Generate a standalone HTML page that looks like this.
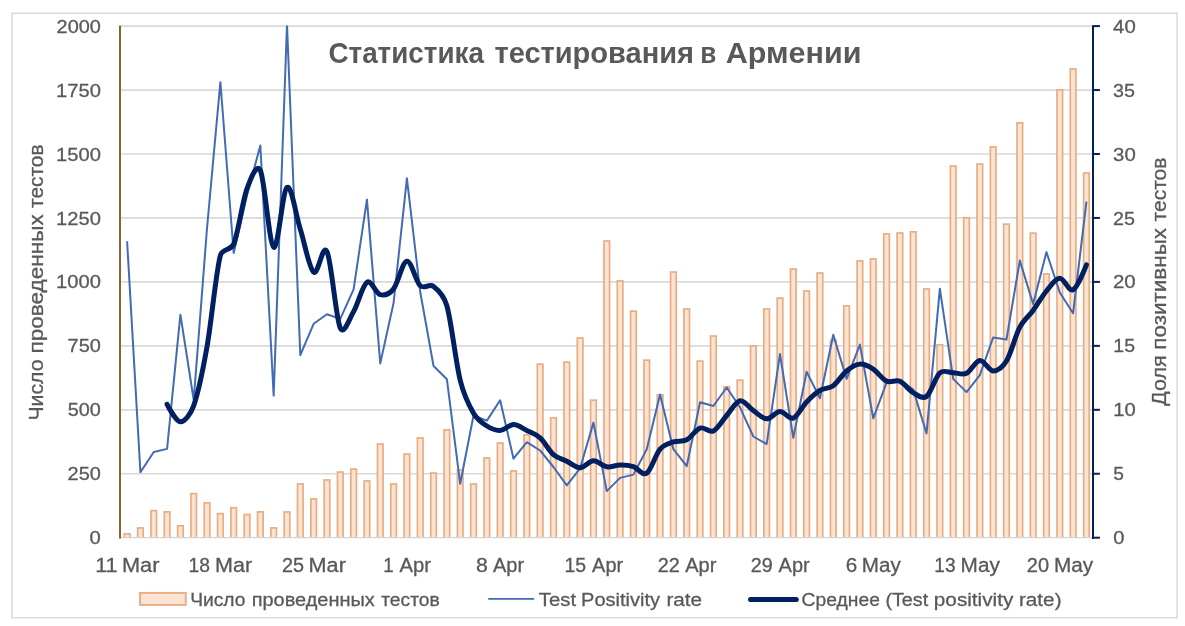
<!DOCTYPE html>
<html lang="ru"><head><meta charset="utf-8"><title>Статистика тестирования в Армении</title>
<style>html,body{margin:0;padding:0;background:#fff}body{width:1185px;height:626px;overflow:hidden}svg{display:block}text{font-family:"Liberation Sans",sans-serif;fill:#595959}</style></head><body>
<svg width="1185" height="626" viewBox="0 0 1185 626">
<rect x="0" y="0" width="1185" height="626" fill="#fff"/>
<rect x="12.1" y="13.3" width="1165" height="604.4" fill="#fff" stroke="#d9d9d9" stroke-width="1.5"/>
<g stroke="#d9d9d9" stroke-width="1.7">
<line x1="120.4" x2="1092" y1="473.75" y2="473.75"/>
<line x1="120.4" x2="1092" y1="409.8" y2="409.8"/>
<line x1="120.4" x2="1092" y1="345.85" y2="345.85"/>
<line x1="120.4" x2="1092" y1="281.9" y2="281.9"/>
<line x1="120.4" x2="1092" y1="217.95" y2="217.95"/>
<line x1="120.4" x2="1092" y1="154" y2="154"/>
<line x1="120.4" x2="1092" y1="90.05" y2="90.05"/>
<line x1="120.4" x2="1092" y1="26.1" y2="26.1"/>
</g>
<clipPath id="bc"><rect x="120" y="20" width="973" height="517.9"/></clipPath>
<g clip-path="url(#bc)" fill="#fde3d1" stroke="#e8ad83" stroke-width="1.7">
<rect x="124.3" y="533.85" width="5.6" height="6.85"/>
<rect x="137.62" y="527.95" width="5.6" height="12.75"/>
<rect x="150.95" y="510.65" width="5.6" height="30.05"/>
<rect x="164.27" y="511.85" width="5.6" height="28.85"/>
<rect x="177.6" y="525.85" width="5.6" height="14.85"/>
<rect x="190.92" y="493.65" width="5.6" height="47.05"/>
<rect x="204.24" y="502.85" width="5.6" height="37.85"/>
<rect x="217.57" y="513.65" width="5.6" height="27.05"/>
<rect x="230.89" y="507.75" width="5.6" height="32.95"/>
<rect x="244.22" y="514.55" width="5.6" height="26.15"/>
<rect x="257.54" y="511.85" width="5.6" height="28.85"/>
<rect x="270.86" y="527.95" width="5.6" height="12.75"/>
<rect x="284.19" y="511.95" width="5.6" height="28.75"/>
<rect x="297.51" y="483.95" width="5.6" height="56.75"/>
<rect x="310.84" y="498.95" width="5.6" height="41.75"/>
<rect x="324.16" y="479.95" width="5.6" height="60.75"/>
<rect x="337.48" y="472.05" width="5.6" height="68.65"/>
<rect x="350.81" y="469.15" width="5.6" height="71.55"/>
<rect x="364.13" y="480.95" width="5.6" height="59.75"/>
<rect x="377.46" y="444.05" width="5.6" height="96.65"/>
<rect x="390.78" y="484.05" width="5.6" height="56.65"/>
<rect x="404.1" y="454.05" width="5.6" height="86.65"/>
<rect x="417.43" y="437.95" width="5.6" height="102.75"/>
<rect x="430.75" y="473.05" width="5.6" height="67.65"/>
<rect x="444.08" y="429.85" width="5.6" height="110.85"/>
<rect x="457.4" y="469.95" width="5.6" height="70.75"/>
<rect x="470.72" y="484.05" width="5.6" height="56.65"/>
<rect x="484.05" y="457.95" width="5.6" height="82.75"/>
<rect x="497.37" y="443.05" width="5.6" height="97.65"/>
<rect x="510.7" y="470.95" width="5.6" height="69.75"/>
<rect x="524.02" y="434.75" width="5.6" height="105.95"/>
<rect x="537.34" y="364.15" width="5.6" height="176.55"/>
<rect x="550.67" y="417.75" width="5.6" height="122.95"/>
<rect x="563.99" y="362.15" width="5.6" height="178.55"/>
<rect x="577.32" y="337.95" width="5.6" height="202.75"/>
<rect x="590.64" y="400.15" width="5.6" height="140.55"/>
<rect x="603.96" y="241.05" width="5.6" height="299.65"/>
<rect x="617.29" y="280.95" width="5.6" height="259.75"/>
<rect x="630.61" y="311.15" width="5.6" height="229.55"/>
<rect x="643.94" y="360.15" width="5.6" height="180.55"/>
<rect x="657.26" y="394.85" width="5.6" height="145.85"/>
<rect x="670.58" y="272.05" width="5.6" height="268.65"/>
<rect x="683.91" y="308.95" width="5.6" height="231.75"/>
<rect x="697.23" y="361.15" width="5.6" height="179.55"/>
<rect x="710.56" y="336.05" width="5.6" height="204.65"/>
<rect x="723.88" y="386.85" width="5.6" height="153.85"/>
<rect x="737.2" y="380.15" width="5.6" height="160.55"/>
<rect x="750.53" y="345.85" width="5.6" height="194.85"/>
<rect x="763.85" y="308.95" width="5.6" height="231.75"/>
<rect x="777.18" y="298.05" width="5.6" height="242.65"/>
<rect x="790.5" y="269.15" width="5.6" height="271.55"/>
<rect x="803.82" y="291.05" width="5.6" height="249.65"/>
<rect x="817.15" y="273.05" width="5.6" height="267.65"/>
<rect x="830.47" y="340.35" width="5.6" height="200.35"/>
<rect x="843.8" y="305.85" width="5.6" height="234.85"/>
<rect x="857.12" y="260.95" width="5.6" height="279.75"/>
<rect x="870.44" y="258.95" width="5.6" height="281.75"/>
<rect x="883.77" y="233.85" width="5.6" height="306.85"/>
<rect x="897.09" y="233.05" width="5.6" height="307.65"/>
<rect x="910.42" y="231.85" width="5.6" height="308.85"/>
<rect x="923.74" y="288.95" width="5.6" height="251.75"/>
<rect x="937.06" y="344.85" width="5.6" height="195.85"/>
<rect x="950.39" y="166.05" width="5.6" height="374.65"/>
<rect x="963.71" y="217.75" width="5.6" height="322.95"/>
<rect x="977.04" y="164.05" width="5.6" height="376.65"/>
<rect x="990.36" y="146.95" width="5.6" height="393.75"/>
<rect x="1003.68" y="224.15" width="5.6" height="316.55"/>
<rect x="1017.01" y="122.85" width="5.6" height="417.85"/>
<rect x="1030.33" y="233.15" width="5.6" height="307.55"/>
<rect x="1043.66" y="273.95" width="5.6" height="266.75"/>
<rect x="1056.98" y="89.85" width="5.6" height="450.85"/>
<rect x="1070.3" y="68.95" width="5.6" height="471.75"/>
<rect x="1083.63" y="173.05" width="5.6" height="367.65"/>
</g>
<line x1="120.4" x2="1092" y1="537.7" y2="537.7" stroke="#d4d4d4" stroke-width="1.3"/>
<line x1="120" x2="120" y1="25.5" y2="538.6" stroke="#8f6236" stroke-width="2"/>
<g stroke="#002060" stroke-width="2">
<line x1="1093" x2="1093" y1="25.2" y2="538.9"/>
<line x1="1093" x2="1099.9" y1="537.7" y2="537.7"/>
<line x1="1093" x2="1099.9" y1="473.75" y2="473.75"/>
<line x1="1093" x2="1099.9" y1="409.8" y2="409.8"/>
<line x1="1093" x2="1099.9" y1="345.85" y2="345.85"/>
<line x1="1093" x2="1099.9" y1="281.9" y2="281.9"/>
<line x1="1093" x2="1099.9" y1="217.95" y2="217.95"/>
<line x1="1093" x2="1099.9" y1="154" y2="154"/>
<line x1="1093" x2="1099.9" y1="90.05" y2="90.05"/>
<line x1="1093" x2="1099.9" y1="26.1" y2="26.1"/>
</g>
<clipPath id="pc"><rect x="120" y="25.6" width="973" height="513"/></clipPath>
<polyline clip-path="url(#pc)" points="127.1,241.2 140.42,472.3 153.75,452 167.07,448.9 180.4,314.7 193.72,400 207.04,228 220.37,82.2 233.69,253 247.02,195 260.34,145.5 273.66,395.6 286.99,24.5 300.31,355.1 313.64,323.8 326.96,314.3 340.28,318.9 353.61,289.3 366.93,199.6 380.26,363.4 393.58,303 406.9,178.3 420.23,292 433.55,366 446.88,379.2 460.2,483.8 473.52,415.5 486.85,420.6 500.17,400.3 513.5,458.7 526.82,442.2 540.14,450.5 553.47,467 566.79,485.3 580.12,468.3 593.44,422.6 606.76,491.1 620.09,477.9 633.41,474.6 646.74,449.2 660.06,394.6 673.38,449.2 686.71,466.2 700.03,402.2 713.36,406 726.68,387.5 740,407.3 753.33,436.5 766.65,444.1 779.98,354 793.3,437.8 806.62,371.8 819.95,398.2 833.27,334.8 846.6,378.9 859.92,344.6 873.24,418.3 886.57,382.7 899.89,379.7 913.22,389.6 926.54,433.5 939.86,288.7 953.19,378.9 966.51,392.1 979.84,375.1 993.16,337.5 1006.48,339.5 1019.81,260.6 1033.13,304 1046.46,252.1 1059.78,292.5 1073.1,313.2 1086.43,201.7" fill="none" stroke="#426bb4" stroke-width="2" stroke-linejoin="round" stroke-linecap="butt"/>
<path d="M167.07,404.3C167.07,404.3 175.95,421.58 180.4,421.8C184.84,422.02 190.92,413.51 193.72,405.6C198.16,393.07 202.82,370.42 207.04,346.6C211.49,321.55 215.93,272.4 220.37,255.3C222.12,248.54 231.1,250.49 233.69,244C238.13,232.9 242.57,200.97 247.02,188.7C250.1,180.19 256.59,162.16 260.34,170.4C264.78,180.15 269.22,244.37 273.66,247.2C278.11,250.03 282.55,190.38 286.99,187.4C291.43,184.42 295.87,215.17 300.31,229.3C304.75,243.43 309.19,268.5 313.64,272.2C318.08,275.9 322.72,242.61 326.96,251.5C331.4,260.8 335.84,318.01 340.28,328.02C343.72,335.77 349.34,318.89 353.61,311.57C358.05,303.95 362.49,285.13 366.93,282.3C371.37,279.47 375.81,293.51 380.26,294.6C384.7,295.69 389.96,293.37 393.58,288.82C398.02,283.26 402.46,261.7 406.9,261.2C411.35,260.7 415.79,281.6 420.23,285.8C424.1,289.47 429.29,283.2 433.55,286.4C437.99,289.73 444.3,296.74 446.88,305.8C451.32,321.44 455.76,362.35 460.2,380.25C463.62,394.05 469.08,405.57 473.52,413.2C477.24,419.59 482.41,423.13 486.85,426C491.29,428.87 495.73,430.63 500.17,430.4C504.61,430.17 509.05,424.59 513.5,424.6C517.94,424.61 522.38,428.23 526.82,430.45C531.26,432.67 535.7,433.9 540.14,437.93C544.59,441.95 549.03,450.71 553.47,454.6C557.91,458.49 562.35,459.05 566.79,461.25C571.23,463.45 575.67,467.85 580.12,467.77C584.56,467.7 589,460.96 593.44,460.8C597.88,460.64 602.32,466.13 606.76,466.83C611.21,467.52 615.65,465.02 620.09,464.98C624.53,464.93 628.97,465.18 633.41,466.55C637.85,467.92 642.29,476.11 646.74,473.2C651.18,470.29 655.62,454.29 660.06,449.07C663.98,444.47 668.94,443.45 673.38,441.9C677.83,440.35 682.27,442.11 686.71,439.8C691.15,437.49 695.59,429.53 700.03,428.05C704.47,426.57 708.91,433 713.36,430.9C717.8,428.8 722.24,420.5 726.68,415.48C731.12,410.45 735.56,401.58 740,400.75C744.45,399.92 748.89,407.48 753.33,410.5C757.77,413.52 762.21,418.67 766.65,418.85C771.09,419.03 775.53,411.73 779.98,411.6C784.42,411.48 788.86,419.71 793.3,418.1C797.74,416.49 802.18,406.53 806.62,401.93C811.07,397.32 815.51,393.16 819.95,390.45C824.39,387.74 828.83,388.9 833.27,385.65C837.71,382.4 842.15,374.51 846.6,370.93C851.04,367.34 855.48,364.42 859.92,364.12C864.36,363.83 868.8,366.32 873.24,369.15C877.69,371.98 882.13,379.1 886.57,381.12C891.01,383.15 895.45,379.42 899.89,381.32C904.33,383.23 908.77,390.07 913.22,392.57C917.66,395.08 922.1,399.66 926.54,396.38C930.98,393.09 935.42,376.82 939.86,372.88C943.85,369.33 948.75,372.6 953.19,372.68C957.63,372.75 962.07,375.35 966.51,373.3C970.95,371.25 975.39,360.8 979.84,360.4C984.28,360 988.72,370.79 993.16,370.9C997.6,371.01 1003.03,366.71 1006.48,361.05C1010.93,353.77 1015.37,335.64 1019.81,327.2C1023.8,319.61 1028.69,316.43 1033.13,310.4C1037.57,304.37 1042.01,296.35 1046.46,291C1050.9,285.65 1055.34,278.5 1059.78,278.3C1064.22,278.1 1068.66,292.04 1073.1,289.8C1077.55,287.56 1086.43,264.88 1086.43,264.88" fill="none" stroke="#002060" stroke-width="5" stroke-linejoin="round" stroke-linecap="round"/>
<text y="62.7" font-size="29.2" font-weight="bold"><tspan x="328.39" textLength="155.67" lengthAdjust="spacingAndGlyphs">Статистика</tspan> <tspan x="494.43" textLength="199.6" lengthAdjust="spacingAndGlyphs">тестирования</tspan> <tspan x="700.37" textLength="16.07" lengthAdjust="spacingAndGlyphs">в</tspan> <tspan x="725.84" textLength="135.67" lengthAdjust="spacingAndGlyphs">Армении</tspan></text>
<text y="543.9" font-size="18.9" stroke="#595959" stroke-width="0.3"><tspan x="89.49" textLength="11.24" lengthAdjust="spacingAndGlyphs">0</tspan></text>
<text y="479.9" font-size="18.9" stroke="#595959" stroke-width="0.3"><tspan x="67.6" textLength="33.26" lengthAdjust="spacingAndGlyphs">250</tspan></text>
<text y="415.9" font-size="18.9" stroke="#595959" stroke-width="0.3"><tspan x="67.81" textLength="33.06" lengthAdjust="spacingAndGlyphs">500</tspan></text>
<text y="351.9" font-size="18.9" stroke="#595959" stroke-width="0.3"><tspan x="67.6" textLength="33.26" lengthAdjust="spacingAndGlyphs">750</tspan></text>
<text y="287.9" font-size="18.9" stroke="#595959" stroke-width="0.3"><tspan x="56.09" textLength="44.81" lengthAdjust="spacingAndGlyphs">1000</tspan></text>
<text y="224.9" font-size="18.9" stroke="#595959" stroke-width="0.3"><tspan x="56.09" textLength="44.81" lengthAdjust="spacingAndGlyphs">1250</tspan></text>
<text y="160.9" font-size="18.9" stroke="#595959" stroke-width="0.3"><tspan x="56.09" textLength="44.81" lengthAdjust="spacingAndGlyphs">1500</tspan></text>
<text y="96.9" font-size="18.9" stroke="#595959" stroke-width="0.3"><tspan x="56.09" textLength="44.81" lengthAdjust="spacingAndGlyphs">1750</tspan></text>
<text y="32.9" font-size="18.9" stroke="#595959" stroke-width="0.3"><tspan x="56.6" textLength="44.28" lengthAdjust="spacingAndGlyphs">2000</tspan></text>
<text y="543.9" font-size="18.9" stroke="#595959" stroke-width="0.3"><tspan x="1113.19" textLength="11.24" lengthAdjust="spacingAndGlyphs">0</tspan></text>
<text y="479.9" font-size="18.9" stroke="#595959" stroke-width="0.3"><tspan x="1113.33" textLength="10.66" lengthAdjust="spacingAndGlyphs">5</tspan></text>
<text y="415.9" font-size="18.9" stroke="#595959" stroke-width="0.3"><tspan x="1113.28" textLength="22.47" lengthAdjust="spacingAndGlyphs">10</tspan></text>
<text y="351.9" font-size="18.9" stroke="#595959" stroke-width="0.3"><tspan x="1113.34" textLength="21.69" lengthAdjust="spacingAndGlyphs">15</tspan></text>
<text y="287.9" font-size="18.9" stroke="#595959" stroke-width="0.3"><tspan x="1112.98" textLength="22.79" lengthAdjust="spacingAndGlyphs">20</tspan></text>
<text y="224.9" font-size="18.9" stroke="#595959" stroke-width="0.3"><tspan x="1113.11" textLength="21.92" lengthAdjust="spacingAndGlyphs">25</tspan></text>
<text y="160.9" font-size="18.9" stroke="#595959" stroke-width="0.3"><tspan x="1113.08" textLength="22.68" lengthAdjust="spacingAndGlyphs">30</tspan></text>
<text y="96.9" font-size="18.9" stroke="#595959" stroke-width="0.3"><tspan x="1113.11" textLength="21.92" lengthAdjust="spacingAndGlyphs">35</tspan></text>
<text y="32.9" font-size="18.9" stroke="#595959" stroke-width="0.3"><tspan x="1113.09" textLength="22.67" lengthAdjust="spacingAndGlyphs">40</tspan></text>
<text y="572.2" font-size="19.4" stroke="#595959" stroke-width="0.3"><tspan x="95.18" textLength="22.46" lengthAdjust="spacingAndGlyphs">11</tspan> <tspan x="121.96" textLength="37.52" lengthAdjust="spacingAndGlyphs">Mar</tspan></text>
<text y="572.2" font-size="19.4" stroke="#595959" stroke-width="0.3"><tspan x="188.55" textLength="21.46" lengthAdjust="spacingAndGlyphs">18</tspan> <tspan x="215.08" textLength="37.09" lengthAdjust="spacingAndGlyphs">Mar</tspan></text>
<text y="572.2" font-size="19.4" stroke="#595959" stroke-width="0.3"><tspan x="281.91" textLength="22.03" lengthAdjust="spacingAndGlyphs">25</tspan> <tspan x="308.57" textLength="37.31" lengthAdjust="spacingAndGlyphs">Mar</tspan></text>
<text y="572.2" font-size="19.4" stroke="#595959" stroke-width="0.3"><tspan x="383.3" textLength="10.35" lengthAdjust="spacingAndGlyphs">1</tspan> <tspan x="399.5" textLength="31.53" lengthAdjust="spacingAndGlyphs">Apr</tspan></text>
<text y="572.2" font-size="19.4" stroke="#595959" stroke-width="0.3"><tspan x="476.04" textLength="11.83" lengthAdjust="spacingAndGlyphs">8</tspan> <tspan x="493" textLength="31.12" lengthAdjust="spacingAndGlyphs">Apr</tspan></text>
<text y="572.2" font-size="19.4" stroke="#595959" stroke-width="0.3"><tspan x="564.44" textLength="21.69" lengthAdjust="spacingAndGlyphs">15</tspan> <tspan x="592.1" textLength="31.02" lengthAdjust="spacingAndGlyphs">Apr</tspan></text>
<text y="572.2" font-size="19.4" stroke="#595959" stroke-width="0.3"><tspan x="657.71" textLength="22.03" lengthAdjust="spacingAndGlyphs">22</tspan> <tspan x="685.2" textLength="31.22" lengthAdjust="spacingAndGlyphs">Apr</tspan></text>
<text y="572.2" font-size="19.4" stroke="#595959" stroke-width="0.3"><tspan x="750.81" textLength="21.92" lengthAdjust="spacingAndGlyphs">29</tspan> <tspan x="778.6" textLength="31.12" lengthAdjust="spacingAndGlyphs">Apr</tspan></text>
<text y="572.2" font-size="19.4" stroke="#595959" stroke-width="0.3"><tspan x="845.77" textLength="11.49" lengthAdjust="spacingAndGlyphs">6</tspan> <tspan x="861.75" textLength="38.94" lengthAdjust="spacingAndGlyphs">May</tspan></text>
<text y="572.2" font-size="19.4" stroke="#595959" stroke-width="0.3"><tspan x="934.27" textLength="21.24" lengthAdjust="spacingAndGlyphs">13</tspan> <tspan x="960.64" textLength="39.25" lengthAdjust="spacingAndGlyphs">May</tspan></text>
<text y="572.2" font-size="19.4" stroke="#595959" stroke-width="0.3"><tspan x="1026.8" textLength="22.25" lengthAdjust="spacingAndGlyphs">20</tspan> <tspan x="1053.94" textLength="39.25" lengthAdjust="spacingAndGlyphs">May</tspan></text>
<text y="0" font-size="19.7" stroke="#595959" stroke-width="0.3" transform="translate(42.8,418.9) rotate(-90)"><tspan x="-1.7" textLength="61.07" lengthAdjust="spacingAndGlyphs">Число</tspan> <tspan x="65.32" textLength="139.43" lengthAdjust="spacingAndGlyphs">проведенных</tspan> <tspan x="210.99" textLength="63.49" lengthAdjust="spacingAndGlyphs">тестов</tspan></text>
<text y="0" font-size="19.7" stroke="#595959" stroke-width="0.3" transform="translate(1165.5,405.8) rotate(-90)"><tspan x="-0.11" textLength="50.56" lengthAdjust="spacingAndGlyphs">Доля</tspan> <tspan x="56.13" textLength="121.75" lengthAdjust="spacingAndGlyphs">позитивных</tspan> <tspan x="184.38" textLength="63.9" lengthAdjust="spacingAndGlyphs">тестов</tspan></text>
<rect x="140" y="592.9" width="45.8" height="12" fill="#fde3d1" stroke="#e8ad83" stroke-width="1.9"/>
<text y="605.5" font-size="19.1" stroke="#595959" stroke-width="0.3"><tspan x="190.26" textLength="55.22" lengthAdjust="spacingAndGlyphs">Число</tspan> <tspan x="251.65" textLength="123.17" lengthAdjust="spacingAndGlyphs">проведенных</tspan> <tspan x="381.21" textLength="58.5" lengthAdjust="spacingAndGlyphs">тестов</tspan></text>
<line x1="488.2" x2="534.2" y1="598.9" y2="598.9" stroke="#426bb4" stroke-width="1.8"/>
<text y="605.5" font-size="19.1" stroke="#595959" stroke-width="0.3"><tspan x="538.89" textLength="37.19" lengthAdjust="spacingAndGlyphs">Test</tspan> <tspan x="581.1" textLength="78.91" lengthAdjust="spacingAndGlyphs">Positivity</tspan> <tspan x="666.46" textLength="35.64" lengthAdjust="spacingAndGlyphs">rate</tspan></text>
<line x1="750.5" x2="796.3" y1="599.5" y2="599.5" stroke="#002060" stroke-width="5" stroke-linecap="round"/>
<text y="605.5" font-size="19.1" stroke="#595959" stroke-width="0.3"><tspan x="801.64" textLength="78.24" lengthAdjust="spacingAndGlyphs">Среднее</tspan> <tspan x="885.41" textLength="42.82" lengthAdjust="spacingAndGlyphs">(Test</tspan> <tspan x="933.85" textLength="79.44" lengthAdjust="spacingAndGlyphs">positivity</tspan> <tspan x="1018.95" textLength="42.61" lengthAdjust="spacingAndGlyphs">rate)</tspan></text>
</svg></body></html>
